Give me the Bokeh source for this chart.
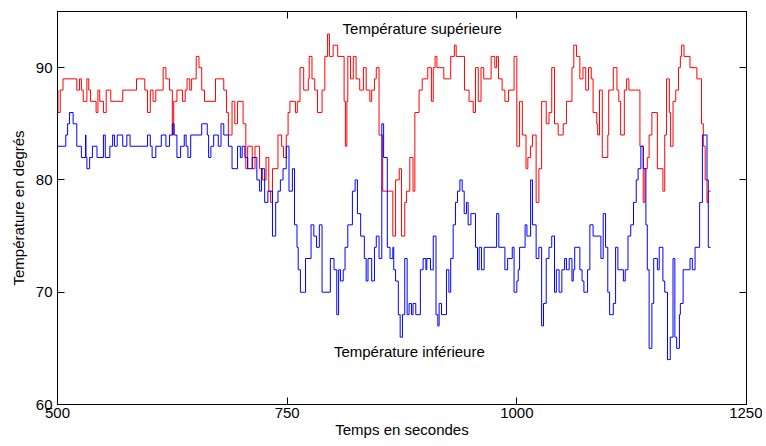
from bokeh.plotting import figure
from bokeh.models import Range1d, LinearAxis, FixedTicker, Label
from bokeh.embed import file_html
from bokeh.resources import INLINE

# Upper temperature (step starts, value)
red_t = [500, 500.5, 503, 506, 521, 524, 526, 528, 532, 534, 536, 542, 544, 546, 550, 553, 558,
         571, 586, 595, 598, 601, 604, 607, 615, 618, 622, 625, 626.5, 630, 636, 639, 641, 644, 646,
         651, 654, 657, 660, 672, 681, 684, 686, 690, 693, 696, 702, 705, 707, 712, 715, 720, 723,
         727, 730, 732, 734, 740, 744, 746, 749, 751, 753, 759, 761, 764, 768, 773, 774, 777, 780,
         783, 788, 791, 794, 796, 800, 805, 812, 813.4, 815, 816, 819, 822, 825, 829, 833, 836, 840,
         842, 845, 847, 850, 854, 865, 868, 872, 874.5, 878, 880, 883.5, 887, 889, 893.6, 897, 903,
         907, 909, 911, 913, 920.5, 928, 932, 934, 943, 948, 952.5, 955, 958, 961, 964, 972, 976,
         978, 980, 984, 987, 991, 997, 1000, 1003, 1006, 1010, 1012, 1015, 1017, 1021, 1024, 1027,
         1032, 1035, 1038, 1041, 1045, 1050.5, 1054, 1060, 1062, 1065, 1068.6, 1072, 1075, 1078,
         1081, 1083, 1087, 1088, 1090, 1093, 1099, 1100, 1105, 1109, 1111, 1113, 1117, 1119.5, 1122,
         1134, 1137.6, 1139.4, 1142, 1144, 1147, 1153, 1159, 1161, 1163, 1166, 1167.4, 1170, 1173,
         1176, 1178, 1179.4, 1182, 1188.5, 1196, 1201, 1203, 1205, 1207, 1208.4, 1211]
red_v = [88, 86, 88, 89, 88, 89, 88, 87, 89, 88, 87, 86, 88, 87, 86, 88, 87,
         88, 89, 88, 86, 88, 87, 88, 90, 89, 88, 84, 87, 88, 87, 88, 89, 88, 89,
         91, 90, 88, 87, 89, 88, 86, 84, 87, 85, 87, 85, 81, 83, 81, 83, 81, 80,
         82, 79, 78, 81, 84, 83, 82, 84, 86, 87, 86, 87, 90, 88, 89, 91, 89, 88,
         86, 88, 91, 93, 91, 92, 91, 87, 83, 87, 91, 89, 91, 89, 88, 90, 88, 87,
         88, 89, 90, 84, 79, 75, 80, 81, 75, 78, 79, 82, 79, 86, 88, 89, 90,
         87, 90, 91, 90, 89, 91, 92, 91, 88, 87, 86, 90, 87, 90, 89, 91, 90,
         91, 89, 88, 87, 88, 91, 83, 87, 84, 81, 82, 83, 84, 78, 81, 87,
         85, 86, 90, 85, 84, 85, 87, 90, 92, 91, 89, 90, 88, 90,
         89, 86, 85, 84, 88, 82, 84, 88, 90, 88, 87, 84, 88, 89, 88,
         83, 78, 81, 82, 84, 86, 81, 79, 84, 89, 86, 83, 87, 88,
         90, 91, 92, 91, 90, 89, 85, 83, 80, 78, 79, 79]

# Lower temperature (step starts, value)
blue_t = [500, 509, 511, 513, 517, 521, 526, 530.5, 531, 532, 535, 538, 543, 550, 552, 557, 560,
          562, 565, 571, 575.5, 579, 598, 601, 603, 607, 613, 618, 622, 625, 627, 630, 634, 638,
          640, 642, 645, 657, 663, 664.5, 667, 670, 675, 678, 681, 686, 690, 696, 699, 701, 704,
          707, 712, 717, 720, 722, 725.5, 729, 734, 737.5, 740, 742.6, 745.5, 749, 752, 755.7, 758,
          760.7, 762, 764.4, 770, 776, 779, 782, 785, 788, 797, 801, 804, 806, 808, 811, 813, 816,
          821, 824, 826.5, 830, 834, 836, 838, 842, 845, 847, 850, 853, 855, 859, 862, 865, 866,
          868, 871, 873, 875.5, 878, 880.6, 882.7, 885.3, 887, 890, 895, 898, 901, 902, 906, 909,
          912, 914, 915.4, 918, 923.4, 926, 928, 930.7, 933.2, 935.4, 938, 940.5, 942.7, 945.2,
          947, 950, 955, 957.2, 959, 961.5, 964.4, 978, 980.4, 987, 990, 995, 997, 1000, 1001.5,
          1003, 1009, 1011, 1015, 1017, 1021, 1024, 1027, 1029, 1032, 1035, 1038, 1041, 1043, 1046,
          1049, 1052, 1054, 1057, 1060, 1061.4, 1063, 1068.6, 1071, 1073, 1077, 1079.5, 1083,
          1091.5, 1094, 1096.6, 1099, 1101, 1105, 1107.5, 1110, 1116, 1118, 1121, 1124, 1127, 1130,
          1132, 1135, 1137.6, 1140.5, 1142, 1144, 1147, 1149, 1153, 1155, 1159, 1161, 1164, 1167,
          1170, 1172, 1174, 1177, 1178, 1181, 1188.5, 1191, 1194, 1199, 1202, 1207, 1208.4, 1211]
blue_v = [83, 84, 85, 86, 85, 83, 82, 84, 82, 81, 82, 83, 82, 84, 82, 83, 84,
          83, 84, 83, 84, 83, 84, 83, 82, 83, 84, 83, 84, 85, 84, 82, 83, 84,
          83, 82, 84, 85, 84, 82, 83, 84, 83, 85, 84, 83, 81, 83, 82, 83, 82,
          81, 82, 80, 79, 81, 78, 79, 75, 78, 79, 80, 81, 83, 79, 81, 76,
          74, 72, 70, 73, 76, 75, 74, 76, 70, 73, 72, 68, 72, 71, 72, 74, 76,
          79, 80, 77, 75, 73, 71, 73, 71, 74, 75, 73, 85, 82, 74, 73, 74, 72,
          71, 68, 66, 68, 73, 68, 69, 68, 69, 68, 72, 73, 72, 73, 72, 75,
          68, 67, 69, 68, 72, 70, 73, 76, 78, 79, 80, 79, 77, 78,
          76, 77, 74, 72, 74, 72, 74, 77, 74, 72, 73, 74, 70, 71, 72,
          74, 76, 75, 80, 76, 73, 74, 67, 69, 73, 74, 75, 70, 72, 70,
          72, 73, 72, 73, 71, 72, 74, 72, 71, 70, 72, 76, 75,
          73, 77, 74, 70, 68, 69, 74, 72, 71, 72, 75, 76, 78, 80,
          81, 83, 81, 76, 72, 65, 69, 73, 72, 74, 71, 70, 64, 66,
          73, 66, 65, 68, 69, 72, 73, 72, 74, 78, 84, 80, 74, 74]

x_ticks = [500, 750, 1000, 1250]
y_ticks = [60, 70, 80, 90]

FONT = "Liberation Sans"
FS = "15px"

p = figure(width=762, height=442, output_backend="svg", toolbar_location=None,
           x_range=Range1d(500, 1250), y_range=Range1d(60, 95),
           min_border_left=57, min_border_right=16, min_border_top=11, min_border_bottom=38,
           background_fill_color="white", border_fill_color="white")
p.grid.visible = False
p.outline_line_color = "black"
p.outline_line_width = 1

p.step(red_t, red_v, mode="after", line_color="#ff0000", line_width=1)
p.step(blue_t, blue_v, mode="after", line_color="#0000ff", line_width=1)

for ax in [p.xaxis[0], p.yaxis[0]]:
    ax.major_tick_in = 7
    ax.major_tick_out = 0
    ax.minor_tick_line_color = None
    ax.axis_line_color = "black"
    ax.major_tick_line_color = "black"
    ax.major_label_text_font = FONT
    ax.major_label_text_font_size = FS
    ax.major_label_text_color = "black"
    ax.axis_label_text_font = FONT
    ax.axis_label_text_font_size = FS
    ax.axis_label_text_font_style = "normal"
    ax.axis_label_text_color = "black"

p.xaxis[0].ticker = FixedTicker(ticks=x_ticks)
p.yaxis[0].ticker = FixedTicker(ticks=y_ticks)
p.xaxis[0].axis_label = "Temps en secondes"
p.yaxis[0].axis_label = "Température en degrés"
p.xaxis[0].major_label_standoff = 3
p.xaxis[0].axis_label_standoff = 0
p.yaxis[0].major_label_standoff = 5
p.yaxis[0].axis_label_standoff = 6

top = LinearAxis(ticker=FixedTicker(ticks=x_ticks))
right = LinearAxis(ticker=FixedTicker(ticks=y_ticks))
for ax in [top, right]:
    ax.major_tick_in = 7
    ax.major_tick_out = 0
    ax.minor_tick_line_color = None
    ax.major_label_text_font_size = "0px"
    ax.major_label_text_color = None
    ax.major_label_standoff = 0
    ax.axis_line_color = "black"
    ax.major_tick_line_color = "black"
p.add_layout(top, "above")
p.add_layout(right, "right")

p.add_layout(Label(x=897, y=93.45, text="Température supérieure", text_align="center",
                   text_baseline="middle", text_font=FONT, text_font_size=FS,
                   text_color="black"))
p.add_layout(Label(x=883, y=64.7, text="Température inférieure", text_align="center",
                   text_baseline="middle", text_font=FONT, text_font_size=FS,
                   text_color="black"))

open("out.html", "w").write(file_html(p, INLINE))
